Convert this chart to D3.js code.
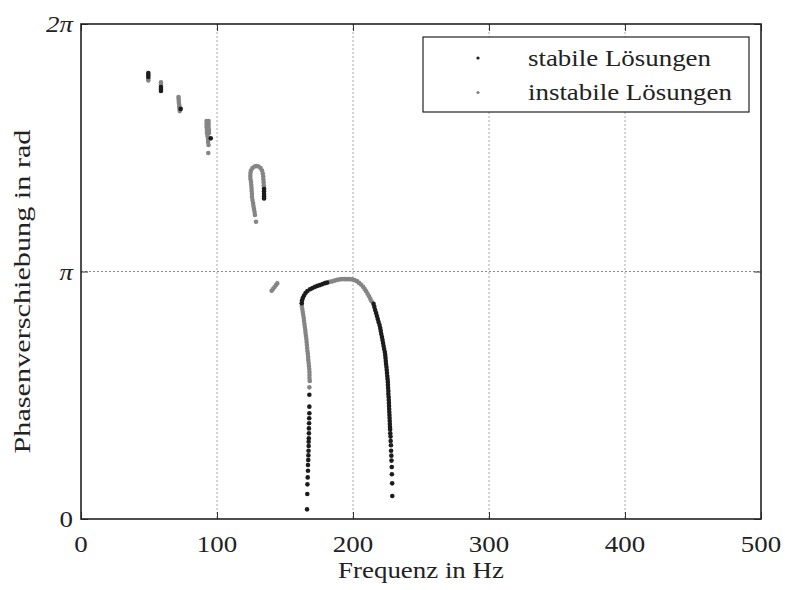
<!DOCTYPE html>
<html>
<head>
<meta charset="UTF-8">
<script src="https://d3js.org/d3.v7.min.js"></script>
<style>
  body { margin: 0; background: #fff; }
  svg text { font-family: 'Liberation Serif', 'DejaVu Serif', serif; fill: #222; }
</style>
</head>
<body>
<svg id="chart" width="785" height="590"></svg>
<script>
// frequency in Hz, phase in multiples of pi
const stablePoints = [
  [49.5, 1.802], [49.5, 1.794], [49.5, 1.786],
  [58.8, 1.745], [58.8, 1.737], [58.8, 1.729],
  [73.3, 1.657],
  [95.4, 1.538],
  [134.6, 1.333], [134.6, 1.323], [134.6, 1.313], [134.6, 1.303], [134.6, 1.295],
  // left leg (bottom up)
  [166.2, 0.039], [166.4, 0.101], [166.5, 0.140], [166.7, 0.168], [166.9, 0.195],
  [166.9, 0.218], [167.1, 0.238], [167.2, 0.257], [167.3, 0.276], [167.4, 0.295],
  [167.4, 0.312], [167.5, 0.326], [167.6, 0.346], [167.6, 0.366], [167.7, 0.387],
  [167.8, 0.407], [167.9, 0.427], [167.9, 0.454], [167.9, 0.502],
  // upper left bend
  [162.3, 0.872], [162.5, 0.883], [163.1, 0.893], [164.0, 0.903], [165.1, 0.913],
  [166.5, 0.921], [168.4, 0.928], [170.2, 0.933], [172.1, 0.938], [173.9, 0.942],
  [175.7, 0.945], [177.6, 0.949], [179.4, 0.953], [180.9, 0.955],
  // right leg (top down)
  [215.1, 0.869], [215.7, 0.857], [216.3, 0.844], [217.0, 0.832], [217.6, 0.820],
  [218.2, 0.808], [218.8, 0.796], [219.5, 0.784], [220.0, 0.772], [220.4, 0.760],
  [220.8, 0.747], [221.3, 0.735], [221.7, 0.723], [222.1, 0.711], [222.5, 0.699],
  [222.9, 0.687], [223.4, 0.675], [223.7, 0.663], [223.9, 0.651], [224.1, 0.638],
  [224.3, 0.626], [224.6, 0.614], [224.8, 0.602], [225.0, 0.590], [225.2, 0.578],
  [225.4, 0.566], [225.6, 0.554], [225.7, 0.541], [225.8, 0.529], [226.0, 0.517],
  [226.0, 0.505], [226.2, 0.493], [226.3, 0.481], [226.4, 0.469], [226.5, 0.457],
  [226.6, 0.444], [226.7, 0.432], [226.8, 0.420], [226.9, 0.408], [227.0, 0.396],
  [227.1, 0.384], [227.2, 0.372], [227.3, 0.362], [227.4, 0.346], [227.6, 0.333],
  [227.7, 0.315], [227.9, 0.298], [228.0, 0.276], [228.2, 0.256], [228.3, 0.236],
  [228.5, 0.210], [228.6, 0.181], [228.8, 0.144], [228.9, 0.093]
];

const unstablePoints = [
  [49.5, 1.778], [49.5, 1.772],
  [58.8, 1.764], [58.8, 1.755],
  [71.7, 1.705], [71.8, 1.697], [71.9, 1.689], [72.0, 1.681], [72.2, 1.673],
  [72.3, 1.665], [72.5, 1.657], [72.6, 1.648],
  [92.3, 1.608], [93.8, 1.608], [92.3, 1.596], [93.8, 1.596], [92.3, 1.584],
  [93.8, 1.584], [92.6, 1.572], [94.1, 1.572], [92.6, 1.560], [94.1, 1.560],
  [93.0, 1.547], [93.4, 1.535], [93.4, 1.523], [93.8, 1.511], [93.6, 1.479],
  // loop near 130 Hz
  [128.7, 1.201], [127.9, 1.228], [127.6, 1.240], [127.2, 1.253], [126.8, 1.265],
  [126.5, 1.277], [126.1, 1.289], [125.7, 1.301], [125.7, 1.313], [125.5, 1.325],
  [125.4, 1.337], [125.2, 1.349], [125.0, 1.362], [124.6, 1.374], [124.5, 1.386],
  [124.6, 1.398], [125.0, 1.408], [126.1, 1.418], [127.6, 1.424], [129.0, 1.426],
  [130.5, 1.424], [132.0, 1.418], [133.1, 1.408], [133.7, 1.396], [134.0, 1.384],
  [134.1, 1.372], [134.3, 1.360], [134.4, 1.347], [134.6, 1.337],
  // small piece near 143 Hz
  [140.2, 0.922], [141.2, 0.929], [142.3, 0.937], [143.4, 0.945], [144.3, 0.952],
  // left leg
  [167.9, 0.532], [168.2, 0.558], [168.0, 0.570], [168.0, 0.582], [168.0, 0.594],
  [167.8, 0.606], [167.6, 0.618], [167.4, 0.630], [167.1, 0.642], [167.0, 0.655],
  [166.8, 0.667], [166.5, 0.679], [166.3, 0.691], [166.1, 0.703], [165.9, 0.715],
  [165.7, 0.727], [165.4, 0.739], [165.1, 0.752], [164.9, 0.764], [164.6, 0.776],
  [164.3, 0.788], [164.0, 0.800], [163.8, 0.812], [163.4, 0.824], [163.1, 0.836],
  [162.7, 0.848], [162.4, 0.861],
  // top of the arch
  [182.7, 0.958], [184.6, 0.960], [186.4, 0.963], [188.2, 0.966], [190.1, 0.968],
  [191.9, 0.969], [193.8, 0.969], [195.6, 0.969], [197.4, 0.969], [199.3, 0.968],
  [201.1, 0.965], [202.9, 0.961], [204.4, 0.954], [205.9, 0.947], [207.4, 0.938],
  [208.6, 0.929], [209.7, 0.920], [210.7, 0.910], [211.8, 0.900], [212.7, 0.890],
  [213.6, 0.880]
];

const xTicks = [0, 100, 200, 300, 400, 500];
const yTicks = [0, 1, 2];
const yTickLabels = ['0', 'π', '2π'];
const legendLabels = ['stabile Lösungen', 'instabile Lösungen'];

const svg = d3.select('#chart');
const margin = { top: 24, right: 24, bottom: 71, left: 81 };
const width = 785 - margin.left - margin.right;
const height = 590 - margin.top - margin.bottom;
const stretch = 1.17; // widen the narrow serif a bit

const x = d3.scaleLinear().domain([0, 500]).range([0, width]);
const y = d3.scaleLinear().domain([0, 2]).range([height, 0]);

const g = svg.append('g')
  .attr('transform', `translate(${margin.left},${margin.top})`);

// grid
g.append('g').selectAll('line')
  .data(xTicks.slice(1, -1))
  .join('line')
  .attr('x1', d => x(d)).attr('x2', d => x(d))
  .attr('y1', 0).attr('y2', height)
  .attr('stroke', '#a8a8a8')
  .attr('stroke-dasharray', '2,2');

g.append('g').selectAll('line')
  .data(yTicks.slice(1, -1))
  .join('line')
  .attr('x1', 0).attr('x2', width)
  .attr('y1', d => y(d)).attr('y2', d => y(d))
  .attr('stroke', '#8a8a8a')
  .attr('stroke-dasharray', '2,2');

// inside tick marks on all four sides
[d3.axisBottom(x), d3.axisTop(x)].forEach((ax, i) => {
  const a = g.append('g')
    .attr('transform', i === 0 ? `translate(0,${height})` : null)
    .call(ax.tickValues(xTicks).tickSize(-7).tickFormat(''));
  a.select('.domain').remove();
  a.selectAll('line').attr('stroke', '#333');
});
[d3.axisLeft(y), d3.axisRight(y)].forEach((ax, i) => {
  const a = g.append('g')
    .attr('transform', i === 1 ? `translate(${width},0)` : null)
    .call(ax.tickValues(yTicks).tickSize(-7).tickFormat(''));
  a.select('.domain').remove();
  a.selectAll('line').attr('stroke', '#333');
});

// tick labels
g.append('g').selectAll('text')
  .data(xTicks)
  .join('text')
  .attr('transform', d => `translate(${x(d)},${height + 33}) scale(${stretch},1)`)
  .attr('text-anchor', 'middle')
  .attr('font-size', 23)
  .text(d => d);

g.append('g').selectAll('text')
  .data(yTicks)
  .join('text')
  .attr('transform', d => `translate(-8,${y(d) + 8}) scale(${stretch},1)`)
  .attr('text-anchor', 'end')
  .attr('font-size', 23)
  .attr('font-style', d => d === 0 ? 'normal' : 'italic')
  .text((d, i) => yTickLabels[i]);

// frame
g.append('rect')
  .attr('width', width).attr('height', height)
  .attr('fill', 'none').attr('stroke', '#222').attr('stroke-width', 1.6);

// points
const dotR = 2.3;
g.append('g').selectAll('circle')
  .data(unstablePoints)
  .join('circle')
  .attr('cx', d => x(d[0])).attr('cy', d => y(d[1]))
  .attr('r', dotR).attr('fill', '#858585');

g.append('g').selectAll('circle')
  .data(stablePoints)
  .join('circle')
  .attr('cx', d => x(d[0])).attr('cy', d => y(d[1]))
  .attr('r', dotR).attr('fill', '#1c1c1c');

// legend
const legend = svg.append('g').attr('transform', 'translate(423,37)');
legend.append('rect')
  .attr('width', 326).attr('height', 75)
  .attr('fill', '#fff').attr('stroke', '#222').attr('stroke-width', 1.2);
legendLabels.forEach((t, i) => {
  legend.append('circle')
    .attr('cx', 55).attr('cy', 21 + i * 34.5)
    .attr('r', 1.6).attr('fill', i === 0 ? '#1c1c1c' : '#858585');
  legend.append('text')
    .attr('transform', `translate(105,${29 + i * 34}) scale(${stretch},1)`)
    .attr('font-size', 23)
    .text(t);
});

// axis titles
svg.append('text')
  .attr('transform', `translate(${margin.left + width / 2},578) scale(${stretch},1)`)
  .attr('text-anchor', 'middle').attr('font-size', 23)
  .text('Frequenz in Hz');

svg.append('text')
  .attr('transform', `translate(30,${margin.top + height / 2 + 20}) rotate(-90) scale(1.26,1)`)
  .attr('text-anchor', 'middle').attr('font-size', 24)
  .text('Phasenverschiebung in rad');
</script>
</body>
</html>
